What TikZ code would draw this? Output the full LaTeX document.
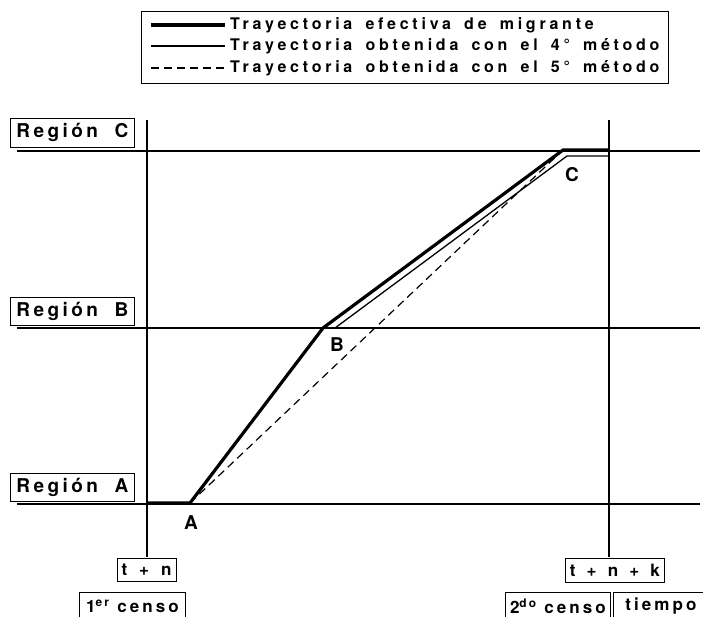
\documentclass[tikz,border=0pt]{standalone}
\usepackage{fontspec}
\setmainfont{TeX Gyre Heros}
\newfontfamily\legfont[LetterSpace=23.5,WordSpace=1.6]{TeX Gyre Heros}
\newfontfamily\labfont[LetterSpace=18]{TeX Gyre Heros}
\begin{document}
\begin{tikzpicture}[x=1pt,y=-1pt,
  axisline/.style={line width=1.1pt},
  effline/.style={line width=3.2pt, line join=round},
  met4line/.style={line width=1.3pt, line join=round},
  met5line/.style={line width=1.2pt, dash pattern=on 8pt off 5pt},
  framebox/.style={draw, line width=0.8pt, inner sep=0pt},
  regfont/.style={font=\labfont\bfseries\fontsize{19}{22}\selectfont},
  botfont/.style={font=\labfont\bfseries\fontsize{17}{20}\selectfont},
  ptfont/.style={font=\bfseries\fontsize{19}{22}\selectfont},
  legtext/.style={font=\legfont\bfseries\fontsize{16}{18}\selectfont, anchor=west, inner sep=0pt}]
\useasboundingbox (0,0) rectangle (703,616);

% legend
\node[draw, line width=0.8pt, minimum width=527pt, minimum height=72pt, anchor=north west, inner sep=0pt] (legend) at (141,11) {};
\coordinate (l1a) at (151,25); \coordinate (l1b) at (225,25);
\coordinate (l2a) at (151,46); \coordinate (l2b) at (225,46);
\coordinate (l3a) at (151,68); \coordinate (l3b) at (225,68);
\draw[effline] (l1a) -- (l1b);
\draw[met4line] (l2a) -- (l2b);
\draw[met5line] (l3a) -- (l3b);
\node[legtext] (t1) at (230,25) {Trayectoria efectiva de migrante};
\node[legtext] (t2) at (230,46) {Trayectoria obtenida con el 4° método};
\node[legtext] (t3) at (230,68) {Trayectoria obtenida con el 5° método};

% axes
\coordinate (vlt) at (147,120); \coordinate (vlb) at (147,557);
\coordinate (vrt) at (609,120); \coordinate (vrb) at (609,557);
\coordinate (hcl) at (17,151); \coordinate (hcr) at (700,151);
\coordinate (hbl) at (17,328); \coordinate (hbr) at (700,328);
\coordinate (hal) at (17,504); \coordinate (har) at (700,504);
\draw[axisline] (vlt) -- (vlb);
\draw[axisline] (vrt) -- (vrb);
\draw[axisline] (hcl) -- (hcr);
\draw[axisline] (hbl) -- (hbr);
\draw[axisline] (hal) -- (har);

% region labels
\node[framebox, regfont, minimum width=124pt, minimum height=29pt, anchor=north west] (regC) at (10,118) {\makebox[112pt][s]{Región C}};
\node[framebox, regfont, minimum width=124pt, minimum height=28pt, anchor=north west] (regB) at (10,297) {\makebox[112pt][s]{Región B}};
\node[framebox, regfont, minimum width=124pt, minimum height=28pt, anchor=north west] (regA) at (10,473) {\makebox[112pt][s]{Región A}};

% trajectories
\coordinate (start) at (147,503);
\coordinate (A) at (190,503);
\coordinate (B) at (323,328);
\coordinate (Bt) at (335,328);
\coordinate (C) at (563,150);
\coordinate (Ct) at (567,156);
\coordinate (endC) at (609,150);
\coordinate (endCt) at (609,156);
\draw[met5line] (A) -- (C);
\draw[met4line] (A) -- (B) -- (Bt) -- (Ct) -- (endCt);
\draw[effline] (start) -- (A) -- (B) -- (C) -- (endC);

\node[ptfont] (lA) at (191,523) {A};
\node[ptfont] (lB) at (337,345) {B};
\node[ptfont] (lC) at (572,175) {C};

% time labels
\node[framebox, botfont, minimum width=59pt, minimum height=23pt] (tn) at (146.5,569.5) {\makebox[50pt][s]{t + n}};
\node[framebox, botfont, minimum width=106pt, minimum height=28pt, anchor=north west] (cen1) at (79,592) {1\textsuperscript{er} censo};
\node[framebox, botfont, minimum width=99pt, minimum height=24pt, anchor=north west] (tnk) at (565,558) {\makebox[90pt][s]{t + n + k}};
\node[framebox, botfont, minimum width=105pt, minimum height=28pt, anchor=north west] (cen2) at (505,592) {2\textsuperscript{do} censo};
\node[framebox, botfont, minimum width=95pt, minimum height=28pt, anchor=north west] (tiempo) at (613,592) {tiempo};
\end{tikzpicture}
\end{document}
